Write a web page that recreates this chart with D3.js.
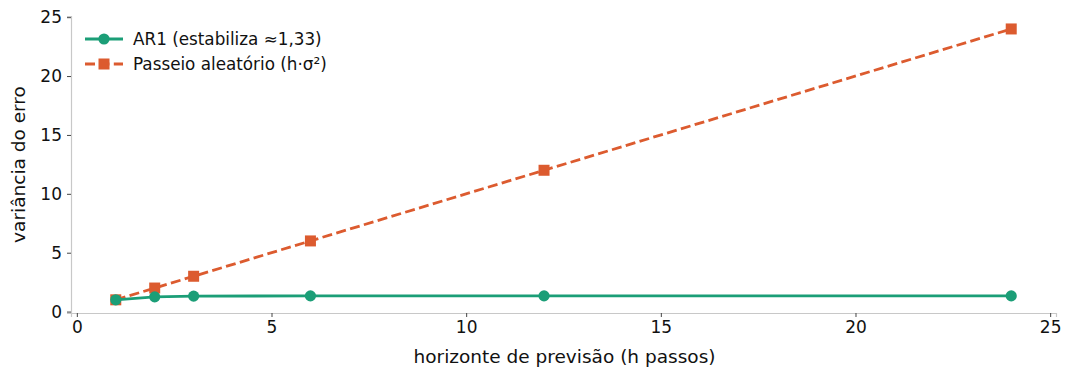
<!DOCTYPE html>
<html>
<head>
<meta charset="utf-8">
<script src="https://cdn.jsdelivr.net/npm/d3@7"></script>
<style>
body { margin: 0; background: #fff; }
text { font-family: "DejaVu Sans", sans-serif; }
</style>
</head>
<body>
<div class="canvas"></div>
<script>
const horizons = [1, 2, 3, 6, 12, 24];
const ar1Var = [1.0, 1.25, 1.3125, 1.333, 1.333, 1.333];
const rwVar = [1, 2, 3, 6, 12, 24];
const xTicks = [0, 5, 10, 15, 20, 25];
const yTicks = [0, 5, 10, 15, 20, 25];

const dims = {width: 1071, height: 369};

const svg = d3.select('.canvas')
.append('svg')
.attr('width', dims.width)
.attr('height', dims.height);

const x = d3.scaleLinear().domain([-0.15, 25.15]).range([71, 1056]);
const y = d3.scaleLinear().domain([-0.12, 25.1]).range([313, 16]);

const colors = {ar: '#1b9e77', rw: '#dc5b2f'};

// axes
const xAxis = svg.append('g')
.attr('transform', `translate(0, ${y.range()[0]})`)
.call(d3.axisBottom(x).tickValues(xTicks).tickSize(4).tickPadding(4).tickFormat(d3.format('d')));

const yAxis = svg.append('g')
.attr('transform', `translate(${x.range()[0]}, 0)`)
.call(d3.axisLeft(y).tickValues(yTicks).tickSize(4).tickPadding(5).tickFormat(d3.format('d')));

[xAxis, yAxis].forEach(ax => {
    ax.select('.domain').attr('stroke', '#c8c8c8').attr('stroke-width', 1.2);
    ax.selectAll('.tick line').attr('stroke', '#444');
    ax.selectAll('.tick text').attr('fill', '#111').style('font-size', '17px');
});

// axis labels
svg.append('text')
.attr('x', (x.range()[0] + x.range()[1]) / 2 + 1)
.attr('y', 363)
.attr('text-anchor', 'middle')
.attr('fill', '#111')
.style('font-size', '18.5px')
.text('horizonte de previsão (h passos)');

svg.append('text')
.attr('transform', `translate(25, ${(y.range()[0] + y.range()[1]) / 2}) rotate(-90)`)
.attr('text-anchor', 'middle')
.attr('fill', '#111')
.style('font-size', '18.5px')
.text('variância do erro');

const line = d3.line().x(d => x(d[0])).y(d => y(d[1]));

// random walk
const rw = horizons.map((h, i) => [h, rwVar[i]]);
svg.append('path')
.attr('d', line(rw))
.attr('fill', 'none')
.attr('stroke', colors.rw)
.attr('stroke-width', 2.8)
.attr('stroke-dasharray', '10,4.4');

svg.selectAll('.rw')
.data(rw)
.enter()
.append('rect')
.attr('x', d => x(d[0]) - 5.5)
.attr('y', d => y(d[1]) - 5.5)
.attr('width', 11)
.attr('height', 11)
.attr('fill', colors.rw);

// AR1
const ar = horizons.map((h, i) => [h, ar1Var[i]]);
svg.append('path')
.attr('d', line(ar))
.attr('fill', 'none')
.attr('stroke', colors.ar)
.attr('stroke-width', 2.8);

svg.selectAll('.ar')
.data(ar)
.enter()
.append('circle')
.attr('cx', d => x(d[0]))
.attr('cy', d => y(d[1]))
.attr('r', 5.6)
.attr('fill', colors.ar);

// legend
const legend = svg.append('g').attr('transform', 'translate(85, 39)');
const items = [
    {label: 'AR1 (estabiliza ≈1,33)', color: colors.ar, shape: 'circle', dash: null},
    {label: 'Passeio aleatório (h·σ²)', color: colors.rw, shape: 'square', dash: '10,4.4'}
];
items.forEach((it, i) => {
    const g = legend.append('g').attr('transform', `translate(0, ${i * 25})`);
    g.append('line')
    .attr('x1', 0).attr('x2', 38)
    .attr('stroke', it.color)
    .attr('stroke-width', 2.8)
    .attr('stroke-dasharray', it.dash);
    if (it.shape === 'circle') {
        g.append('circle').attr('cx', 19).attr('r', 5.6).attr('fill', it.color);
    } else {
        g.append('rect').attr('x', 13.5).attr('y', -5.5).attr('width', 11).attr('height', 11).attr('fill', it.color);
    }
    g.append('text')
    .attr('x', 48)
    .attr('dy', '0.35em')
    .attr('fill', '#111')
    .style('font-size', '16.8px')
    .text(it.label);
});
</script>
</body>
</html>
